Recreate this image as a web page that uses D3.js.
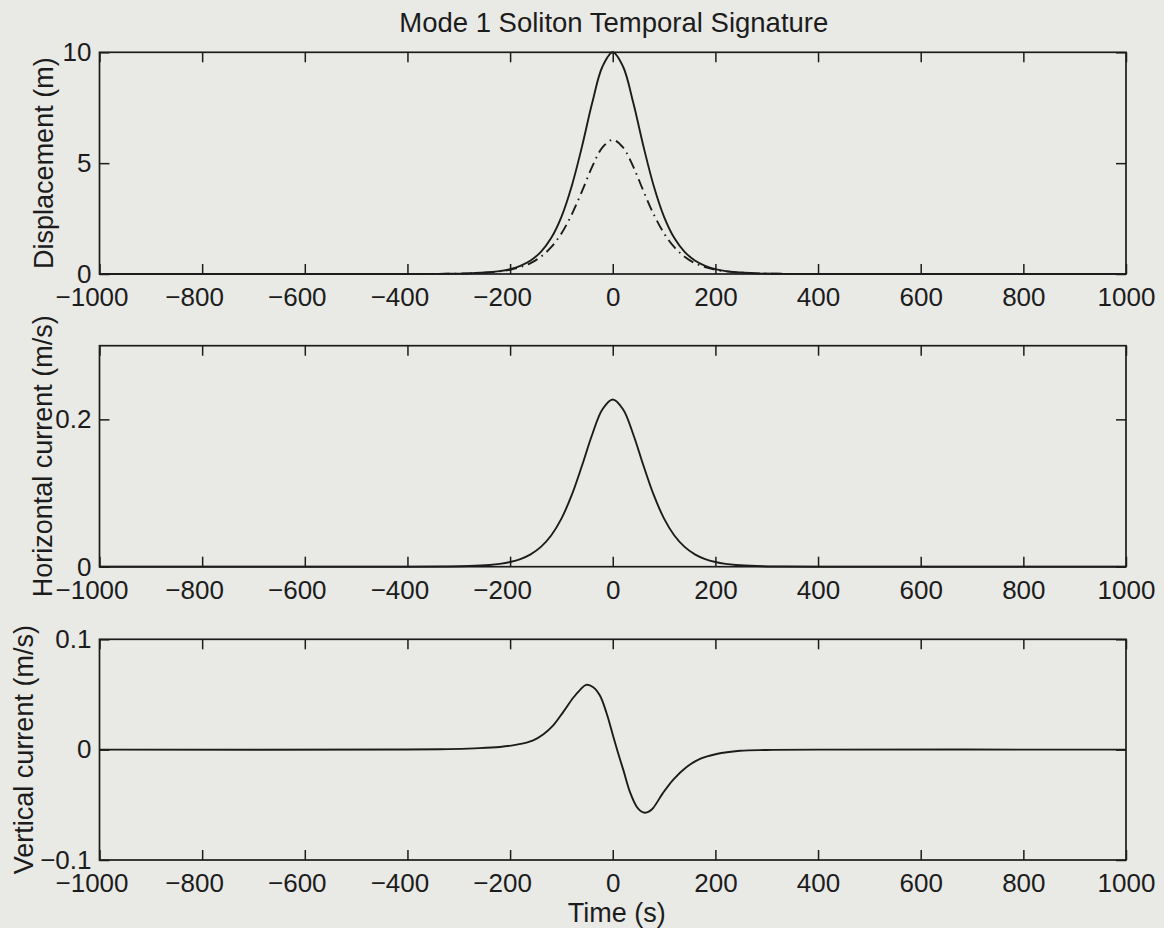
<!DOCTYPE html>
<html>
<head>
<meta charset="utf-8">
<script src="https://cdn.jsdelivr.net/npm/d3@7"></script>
<style>
  html, body { margin: 0; padding: 0; background: #e9e9e6; }
  svg { display: block; }
  text { font-family: "Liberation Sans", Arial, Helvetica, sans-serif; fill: #1c1c1c; }
</style>
</head>
<body>
<svg id="chart" width="1164" height="928"></svg>
<script>
// ---- Data -------------------------------------------------------------
const timeTicks = [-1000, -800, -600, -400, -200, 0, 200, 400, 600, 800, 1000];

// Displacement and horizontal current share one time grid (s)
const pulseTime = [-1000, -400, -320, -280, -240, -220, -200, -180, -160, -140, -120, -100, -80, -60, -40, -20,
                   0, 20, 40, 60, 80, 100, 120, 140, 160, 180, 200, 220, 240, 280, 320, 400, 1000];

// Displacement (m), solid line
const displacementSolid = [0, 0.001, 0.010, 0.028, 0.078, 0.13, 0.22, 0.37, 0.61, 1.00, 1.62, 2.58, 3.96, 5.74, 7.72, 9.36,
                           10.0, 9.36, 7.72, 5.74, 3.96, 2.58, 1.62, 1.00, 0.61, 0.37, 0.22, 0.13, 0.078, 0.028, 0.010, 0.001, 0];
// Displacement (m), dash-dot line
const displacementDashDot = [0, 0.002, 0.011, 0.028, 0.074, 0.12, 0.19, 0.31, 0.49, 0.78, 1.21, 1.83, 2.68, 3.73, 4.84, 5.71,
                             6.05, 5.71, 4.84, 3.73, 2.68, 1.83, 1.21, 0.78, 0.49, 0.31, 0.19, 0.12, 0.074, 0.028, 0.011, 0.002, 0];
// Horizontal current (m/s)
const horizontalCurrent = [0, 0.0000, 0.0003, 0.0009, 0.0024, 0.0039, 0.0064, 0.0104, 0.0168, 0.0269, 0.0424, 0.0653, 0.0971, 0.1370, 0.1795, 0.2137,
                           0.227, 0.2137, 0.1795, 0.1370, 0.0971, 0.0653, 0.0424, 0.0269, 0.0168, 0.0104, 0.0064, 0.0039, 0.0024, 0.0009, 0.0003, 0.0000, 0];

// Vertical current (m/s)
const verticalTime = [-1000, -400, -320, -270, -220, -187, -155, -135, -116, -96, -77, -64, -52, -38, -25, -12,
                      1, 11, 21, 34, 47, 55, 63, 71, 79, 98, 118, 144, 170, 202, 248, 300, 400, 1000];
const verticalCurrent = [0, 0.0001, 0.0005, 0.0012, 0.0024, 0.0045, 0.0085, 0.0140, 0.0220, 0.0345, 0.0470, 0.0540, 0.0587, 0.0566, 0.0490, 0.0330,
                         0.0120, -0.0040, -0.0190, -0.0390, -0.0520, -0.0558, -0.0572, -0.0560, -0.0527, -0.0392, -0.0271, -0.0157, -0.0084, -0.0039, -0.0010, -0.0003, 0, 0];

// ---- Layout -------------------------------------------------------------
const svg = d3.select("#chart");
const left = 99.5, right = 1126;
const panels = [
  { top: 52.3,  bottom: 274,   domain: [0, 10],     ticks: [0, 5, 10],       fmt: d => String(d),
    label: "Displacement (m)", labelX: 53 },
  { top: 345.7, bottom: 566.7, domain: [0, 0.3],    ticks: [0, 0.2],         fmt: d => String(d),
    label: "Horizontal current (m/s)", labelX: 51.5 },
  { top: 639.3, bottom: 860,   domain: [-0.1, 0.1], ticks: [-0.1, 0, 0.1],   fmt: d => (d < 0 ? "\u2212" + Math.abs(d) : String(d)),
    label: "Vertical current (m/s)", labelX: 33 }
];

const x = d3.scaleLinear().domain([-1000, 1000]).range([left, right]);
const ink = "#1c1c1c";
const tickFont = 26;
const labelFont = 27;

panels.forEach(p => {
  p.y = d3.scaleLinear().domain(p.domain).range([p.bottom, p.top]);
  const g = svg.append("g");

  // bottom axis with inward ticks and labels
  const bx = g.append("g").attr("transform", `translate(0,${p.bottom})`)
    .call(d3.axisBottom(x).tickValues(timeTicks).tickSizeInner(-10).tickSizeOuter(0).tickPadding(13.5)
      .tickFormat(d => d < 0 ? "\u2212" + Math.abs(d) : String(d)));
  bx.selectAll("text").attr("dx", d => d < 0 ? -8 : 0);

  // top axis: ticks only
  g.append("g").attr("transform", `translate(0,${p.top})`)
    .call(d3.axisTop(x).tickValues(timeTicks).tickSizeInner(-10).tickSizeOuter(0).tickFormat(""));

  // left axis with labels
  g.append("g").attr("transform", `translate(${left},0)`)
    .call(d3.axisLeft(p.y).tickValues(p.ticks).tickSizeInner(-10).tickSizeOuter(0).tickPadding(8).tickFormat(p.fmt));

  // right axis: ticks only
  g.append("g").attr("transform", `translate(${right},0)`)
    .call(d3.axisRight(p.y).tickValues(p.ticks).tickSizeInner(-10).tickSizeOuter(0).tickFormat(""));

  g.selectAll(".domain").remove();
  g.selectAll(".tick line").attr("stroke", ink).attr("stroke-width", 1.5);
  g.selectAll(".tick text").attr("font-size", tickFont).attr("fill", ink)
    .style("font-family", '"Liberation Sans", Arial, Helvetica, sans-serif');

  // axes box
  g.append("rect")
    .attr("x", left).attr("y", p.top)
    .attr("width", right - left).attr("height", p.bottom - p.top)
    .attr("fill", "none").attr("stroke", ink).attr("stroke-width", 1.7);

  // y label
  g.append("text")
    .attr("transform", `translate(${p.labelX},${(p.top + p.bottom) / 2}) rotate(-90)`)
    .attr("text-anchor", "middle")
    .attr("font-size", labelFont)
    .text(p.label);
});

// ---- Curves -------------------------------------------------------------
function drawCurve(panel, times, values, dash) {
  const line = d3.line()
    .x((d, i) => x(times[i]))
    .y(d => panel.y(d))
    .curve(d3.curveCatmullRom.alpha(0.5));
  svg.append("path")
    .datum(values)
    .attr("d", line)
    .attr("fill", "none")
    .attr("stroke", ink)
    .attr("stroke-width", 1.9)
    .attr("stroke-linejoin", "round")
    .attr("stroke-dasharray", dash || null);
}

drawCurve(panels[0], pulseTime, displacementDashDot, "11,5,1.6,5");
drawCurve(panels[0], pulseTime, displacementSolid);
drawCurve(panels[1], pulseTime, horizontalCurrent);
drawCurve(panels[2], verticalTime, verticalCurrent);

// ---- Titles -------------------------------------------------------------
svg.append("text")
  .attr("x", (left + right) / 2 + 1).attr("y", 32)
  .attr("text-anchor", "middle")
  .attr("font-size", 27.5)
  .text("Mode 1 Soliton Temporal Signature");

svg.append("text")
  .attr("x", (left + right) / 2 + 4).attr("y", 922)
  .attr("text-anchor", "middle")
  .attr("font-size", labelFont)
  .text("Time (s)");
</script>
</body>
</html>
